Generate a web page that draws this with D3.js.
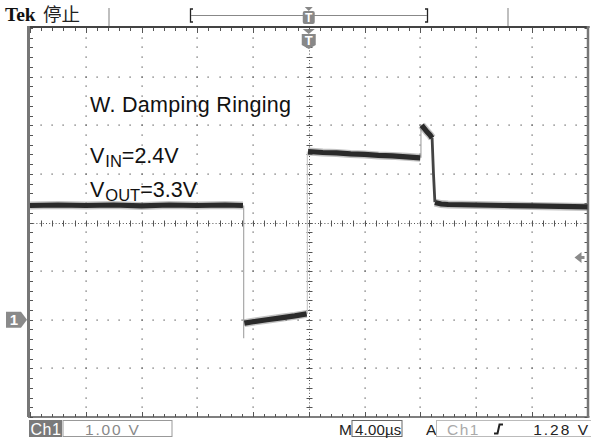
<!DOCTYPE html>
<html><head><meta charset="utf-8">
<script src="https://cdn.jsdelivr.net/npm/d3@7"></script>
<style>html,body{margin:0;padding:0;background:#fff;} svg{display:block;}</style>
</head><body><svg id="c" width="591" height="441"></svg>
<script>
// ---------- data ----------
const timeDomain = [-20, 20];          // µs  (4 µs/div, 10 div)
const voltDomain = [-2, 6];            // V   (1 V/div, 8 div, ground = 0)
const timeGrid = [-20, -16, -12, -8, -4, 0, 4, 8, 12, 16, 20];
const voltGrid = [-2, -1, 0, 1, 2, 3, 4, 5, 6];

// trace plateaus (time µs, volts)
const baseBeforeT = [-20, -18, -16, -14, -12, -10, -8, -6, -4.72];
const baseBeforeV = [2.35, 2.36, 2.35, 2.36, 2.34, 2.36, 2.35, 2.36, 2.35];
const lowT = [-4.62, -4, -3, -2, -1, -0.15];
const lowV = [-0.07, -0.04, 0.0, 0.04, 0.08, 0.12];
const highT = [-0.05, 1, 2, 3, 4, 5, 6, 7, 8.0];
const highV = [3.46, 3.44, 3.43, 3.41, 3.40, 3.38, 3.37, 3.35, 3.33];
const spikeT = [8.1, 8.3, 8.5, 8.7, 8.85];
const spikeV = [4.0, 3.93, 3.86, 3.80, 3.74];
const fallT = [8.85, 8.95, 9.05];
const fallV = [3.74, 3.0, 2.42];
const baseAfterT = [9.05, 9.5, 10, 12, 14, 16, 18, 20];
const baseAfterV = [2.41, 2.38, 2.37, 2.36, 2.35, 2.34, 2.33, 2.32];
// fast edges (drawn thin)
const edgeT = [-4.67, -0.1, 8.05];
const edgeFromV = [2.35, 0.12, 3.33];
const edgeToV = [-0.38, 3.46, 4.02];

const triggerLevel = 1.28;  // V
const groundLevel = 0;      // V

const titleText = "W. Damping Ringing";
const vinParts = ["V", "IN", "=2.4V"];
const voutParts = ["V", "OUT", "=3.3V"];
const chScale = "1.00 V";
const timeScale = "4.00µs";
const trigLabel = "1.28 V";

// ---------- layout ----------
const svg = d3.select("#c");
const L = 30, R = 587.5, T = 28, B = 417;
const x = d3.scaleLinear().domain(timeDomain).range([L, R]);
const y = d3.scaleLinear().domain(voltDomain).range([B, T]);
const gridCol = "#555";

const g = svg.append("g");

// dotted graticule
const minorT = d3.range(timeDomain[0], timeDomain[1] + 0.001, 0.8);
const minorV = d3.range(voltDomain[0], voltDomain[1] + 0.001, 0.2);
timeGrid.slice(1, -1).forEach(t => {
  if (t === 0) return;
  g.selectAll(null).data(minorV.slice(1, -1)).enter().append("rect")
    .attr("x", Math.round(x(t)) - 0.5).attr("y", d => Math.round(y(d)) - 0.5)
    .attr("width", 1.2).attr("height", 1.2).attr("fill", gridCol);
});
voltGrid.slice(1, -1).forEach(v => {
  if (v === 2) return;
  g.selectAll(null).data(minorT.slice(1, -1)).enter().append("rect")
    .attr("x", d => Math.round(x(d)) - 0.5).attr("y", Math.round(y(v)) - 0.5)
    .attr("width", 1.2).attr("height", 1.2).attr("fill", gridCol);
});
// center axes
const cx = Math.round(x(0)), cy = Math.round(y(2));
g.append("line").attr("x1", cx + 0.5).attr("x2", cx + 0.5).attr("y1", T).attr("y2", B)
  .attr("stroke", gridCol).attr("stroke-width", 1).attr("stroke-dasharray", "1,2.2");
g.append("line").attr("y1", cy + 0.5).attr("y2", cy + 0.5).attr("x1", L).attr("x2", R)
  .attr("stroke", gridCol).attr("stroke-width", 1).attr("stroke-dasharray", "1,2.2");
g.selectAll(null).data(minorV.slice(1, -1)).enter().append("line")
  .attr("x1", cx - 2.5).attr("x2", cx + 3.5).attr("y1", d => Math.round(y(d)) + 0.5).attr("y2", d => Math.round(y(d)) + 0.5)
  .attr("stroke", gridCol).attr("stroke-width", 1);
g.selectAll(null).data(minorT.slice(1, -1)).enter().append("line")
  .attr("y1", cy - 2.5).attr("y2", cy + 3.5).attr("x1", d => Math.round(x(d)) + 0.5).attr("x2", d => Math.round(x(d)) + 0.5)
  .attr("stroke", gridCol).attr("stroke-width", 1);

// border ticks
g.selectAll(null).data(minorT).enter().append("line")
  .attr("x1", d => Math.round(x(d)) + 0.5).attr("x2", d => Math.round(x(d)) + 0.5)
  .attr("y1", T).attr("y2", d => T + (timeGrid.includes(+d.toFixed(3)) ? 5 : 3))
  .attr("stroke", gridCol);
g.selectAll(null).data(minorT).enter().append("line")
  .attr("x1", d => Math.round(x(d)) + 0.5).attr("x2", d => Math.round(x(d)) + 0.5)
  .attr("y1", B).attr("y2", d => B - (timeGrid.includes(+d.toFixed(3)) ? 5 : 3))
  .attr("stroke", gridCol);
g.selectAll(null).data(minorV).enter().append("line")
  .attr("y1", d => Math.round(y(d)) + 0.5).attr("y2", d => Math.round(y(d)) + 0.5)
  .attr("x1", L).attr("x2", L + 3).attr("stroke", gridCol);
g.selectAll(null).data(minorV).enter().append("line")
  .attr("y1", d => Math.round(y(d)) + 0.5).attr("y2", d => Math.round(y(d)) + 0.5)
  .attr("x1", R).attr("x2", R - 3).attr("stroke", gridCol);

// border
g.append("line").attr("x1", L - 2).attr("x2", R + 2).attr("y1", T - 1).attr("y2", T - 1)
  .attr("stroke", "#444").attr("stroke-width", 2.2);
g.append("line").attr("x1", L - 2).attr("x2", R + 2).attr("y1", B).attr("y2", B)
  .attr("stroke", "#555").attr("stroke-width", 1.5);
g.append("line").attr("x1", L - 1.5).attr("x2", L - 1.5).attr("y1", T - 2).attr("y2", B)
  .attr("stroke", "#777").attr("stroke-width", 3);
g.append("line").attr("x1", R + 0.5).attr("x2", R + 0.5).attr("y1", T - 2).attr("y2", B)
  .attr("stroke", "#777").attr("stroke-width", 2.5);

// ---------- annotations ----------
const ff = "'Liberation Sans', Arial, sans-serif";
svg.append("text").attr("x", 90).attr("y", 112).attr("font-family", ff).attr("font-size", 21.5)
  .attr("fill", "#111").attr("letter-spacing", 0.3).text(titleText);
function subLabel(parts, by) {
  const t = svg.append("text").attr("x", 90).attr("y", by).attr("font-family", ff).attr("font-size", 21.5).attr("fill", "#111");
  t.append("tspan").text(parts[0]);
  t.append("tspan").attr("font-size", 16.5).attr("dy", 4).attr("dx", 1).text(parts[1]);
  t.append("tspan").attr("dy", -4).text(parts[2]);
}
subLabel(vinParts, 163);
subLabel(voutParts, 197);

// ---------- trace ----------
const line = d3.line().x(d => x(d[0])).y(d => y(d[1]));
const zip = (a, b) => a.map((v, i) => [v, b[i]]);
const plateaus = [zip(baseBeforeT, baseBeforeV), zip(lowT, lowV), zip(highT, highV), zip(spikeT, spikeV), zip(baseAfterT, baseAfterV)];
// fast edges, thin and light
edgeT.forEach((t, i) => {
  svg.append("line").attr("x1", x(t)).attr("x2", x(t)).attr("y1", y(edgeFromV[i])).attr("y2", y(edgeToV[i]))
    .attr("stroke", i === 1 ? "#c8c8c8" : "#a8a8a8").attr("stroke-width", 1.2);
});
svg.selectAll(null).data(plateaus).enter().append("path")
  .attr("d", line).attr("fill", "none").attr("stroke", "#777").attr("stroke-width", 8).attr("stroke-opacity", 0.45);
svg.selectAll(null).data(plateaus).enter().append("path")
  .attr("d", line).attr("fill", "none").attr("stroke", "#2a2a2a").attr("stroke-width", 5.2);
svg.append("path").attr("d", line(zip(fallT, fallV))).attr("fill", "none").attr("stroke", "#444").attr("stroke-width", 2.8);

// ---------- markers ----------
// trigger level arrow (right)
const ty = y(triggerLevel);
svg.append("path").attr("d", `M${R - 13},${ty} L${R - 6},${ty - 5.5} L${R - 6},${ty - 1.5} L${R - 3},${ty - 1.5} L${R - 3},${ty + 1.5} L${R - 6},${ty + 1.5} L${R - 6},${ty + 5.5} Z`)
  .attr("fill", "#8a8a8a");
// ground marker (left)
const gy = y(groundLevel);
svg.append("path").attr("d", `M6,${gy - 8} L21,${gy - 8} L27,${gy} L21,${gy + 8} L6,${gy + 8} Z`).attr("fill", "#8a8a8a");
svg.append("text").attr("x", 14).attr("y", gy + 5.5).attr("text-anchor", "middle").attr("font-family", ff)
  .attr("font-weight", "bold").attr("font-size", 15).attr("fill", "#fff").text("1");
// trigger position marker under top edge
const tx = x(0);
svg.append("path").attr("d", `M${tx - 6},${T + 1} L${tx + 6},${T + 1} L${tx},${T + 6} Z`).attr("fill", "#888");
svg.append("path").attr("d", `M${tx - 7},${T + 6} L${tx + 7},${T + 6} L${tx + 7},${T + 17} L${tx},${T + 21} L${tx - 7},${T + 17} Z`).attr("fill", "#888");
svg.append("text").attr("x", tx).attr("y", T + 17).attr("text-anchor", "middle").attr("font-family", ff)
  .attr("font-weight", "bold").attr("font-size", 13).attr("fill", "#fff").text("T");

// ---------- header ----------
svg.append("text").attr("x", 5).attr("y", 21).attr("font-family", "'Liberation Serif', 'Times New Roman', serif")
  .attr("font-weight", "bold").attr("font-size", 19.5).attr("fill", "#111").text("Tek");
svg.append("text").attr("x", 43).attr("y", 21).attr("font-family", "'Noto Sans CJK SC', sans-serif")
  .attr("font-size", 18.5).attr("fill", "#222").text("停止");
svg.append("line").attr("x1", 109).attr("x2", 109).attr("y1", 8).attr("y2", 26).attr("stroke", "#aaa").attr("stroke-width", 1.5);
svg.append("line").attr("x1", 508).attr("x2", 508).attr("y1", 8).attr("y2", 26).attr("stroke", "#aaa").attr("stroke-width", 1.5);
// record window bracket
svg.append("path").attr("d", "M193,9 L190.5,9 L190.5,22 L193,22").attr("fill", "none").attr("stroke", "#222").attr("stroke-width", 1.3);
svg.append("path").attr("d", "M425,9 L427.5,9 L427.5,22 L425,22").attr("fill", "none").attr("stroke", "#222").attr("stroke-width", 1.3);
svg.append("line").attr("x1", 191).attr("x2", 427).attr("y1", 15.5).attr("y2", 15.5).attr("stroke", "#888").attr("stroke-width", 1);
svg.append("path").attr("d", `M${tx - 4},7 L${tx + 4},7 L${tx},11 Z`).attr("fill", "#888");
svg.append("rect").attr("x", tx - 6).attr("y", 11).attr("width", 12).attr("height", 13).attr("rx", 2).attr("fill", "#888");
svg.append("text").attr("x", tx).attr("y", 22).attr("text-anchor", "middle").attr("font-family", ff)
  .attr("font-weight", "bold").attr("font-size", 12).attr("fill", "#fff").text("T");

// ---------- status bar ----------
const fs = 15.5;
svg.append("rect").attr("x", 29).attr("y", 420).attr("width", 33).attr("height", 17).attr("fill", "#7a7a7a");
svg.append("text").attr("x", 30.5).attr("y", 435).attr("font-family", ff).attr("font-size", 16).attr("letter-spacing", 0.5)
  .attr("fill", "#fff").text("Ch1");
svg.append("rect").attr("x", 63).attr("y", 420.5).attr("width", 109).attr("height", 16).attr("fill", "none").attr("stroke", "#999");
svg.append("text").attr("x", 85).attr("y", 435).attr("font-family", ff).attr("font-size", fs).attr("letter-spacing", 1.8)
  .attr("fill", "#888").text(chScale);
svg.append("text").attr("x", 339).attr("y", 435).attr("font-family", ff).attr("font-size", fs).attr("fill", "#222").text("M");
svg.append("rect").attr("x", 352).attr("y", 420.5).attr("width", 50).attr("height", 16).attr("fill", "none").attr("stroke", "#666");
svg.append("text").attr("x", 355).attr("y", 435).attr("font-family", ff).attr("font-size", 15).attr("letter-spacing", 0.2)
  .attr("fill", "#222").text(timeScale);
svg.append("text").attr("x", 426).attr("y", 435).attr("font-family", ff).attr("font-size", fs).attr("fill", "#222").text("A");
svg.append("rect").attr("x", 436.5).attr("y", 420.5).attr("width", 160).attr("height", 16).attr("fill", "none").attr("stroke", "#bbb");
svg.append("text").attr("x", 447).attr("y", 435).attr("font-family", ff).attr("font-size", fs).attr("letter-spacing", 1.5)
  .attr("fill", "#aaa").text("Ch1");
svg.append("path").attr("d", "M494,433.5 L497.5,433.5 L499.5,424.5 L503,424.5").attr("fill", "none").attr("stroke", "#222").attr("stroke-width", 2);
svg.append("text").attr("x", 590).attr("y", 435).attr("text-anchor", "end").attr("font-family", ff).attr("font-size", fs)
  .attr("letter-spacing", 2).attr("fill", "#222").text(trigLabel);
</script></body></html>
